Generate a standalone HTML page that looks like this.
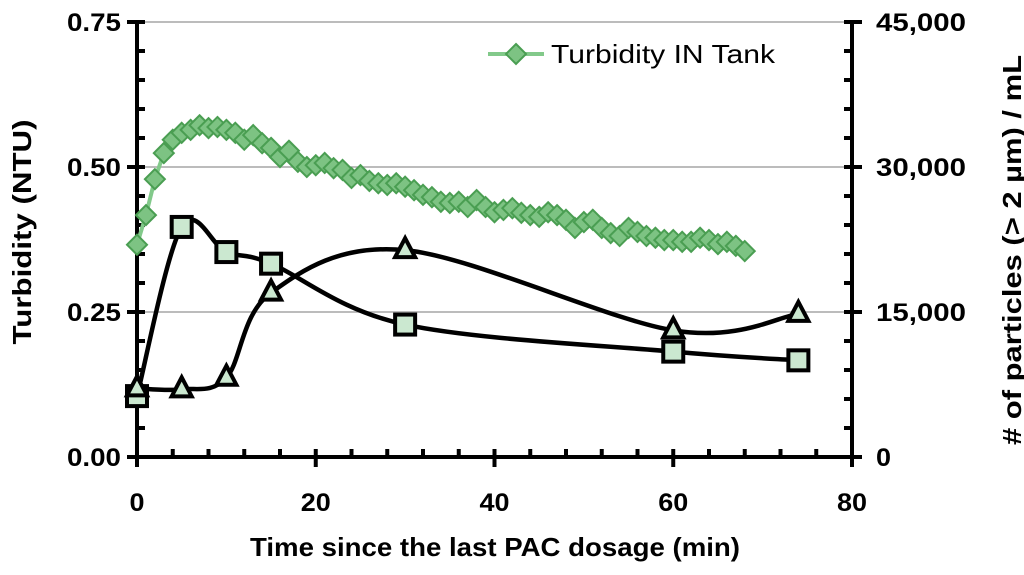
<!DOCTYPE html>
<html><head><meta charset="utf-8"><style>
body{margin:0;background:#fff;width:1024px;height:570px;overflow:hidden}
svg{font-family:"Liberation Sans",sans-serif;font-weight:bold}
</style></head><body>
<svg id="c" width="1024" height="570"></svg>
<script>
const turbTimes=[];for(let i=0;i<=68;i++)turbTimes.push(i);
const turbidity=[0.366,0.417,0.479,0.524,0.547,0.559,0.564,0.572,0.567,0.569,0.564,0.559,0.547,0.555,0.541,0.533,0.517,0.528,0.509,0.5,0.503,0.507,0.498,0.495,0.481,0.486,0.476,0.472,0.469,0.472,0.466,0.46,0.452,0.448,0.44,0.438,0.44,0.431,0.443,0.431,0.422,0.426,0.429,0.421,0.417,0.414,0.422,0.417,0.409,0.395,0.405,0.409,0.395,0.386,0.381,0.395,0.388,0.381,0.378,0.374,0.374,0.371,0.371,0.378,0.374,0.367,0.371,0.364,0.355];
const sampleTimes=[0,5,10,15,30,60,74];
const squareSeries=[6300,23800,21200,20000,13700,10900,10000];
const triangleSeries=[7100,7000,8200,17000,21400,13100,14800];
const xTicks=[0,20,40,60,80];
const yLeftTicks=["0.00","0.25","0.50","0.75"];
const yRightTicks=["0","15,000","30,000","45,000"];

const NS="http://www.w3.org/2000/svg";const svg=document.getElementById('c');
const X0=137,X1=852,Y0=457,Y1=22;
const xs=v=>X0+(v/80)*(X1-X0);
const yl=v=>Y0-(v/0.75)*(Y0-Y1);
const yr=v=>Y0-(v/45000)*(Y0-Y1);
function el(t,a,p){const e=document.createElementNS(NS,t);for(const k in a)e.setAttribute(k,a[k]);(p||svg).appendChild(e);return e;}
for(let i=1;i<=3;i++){const g=el('line',{x1:X0,x2:X1,y1:yl(i*0.25),y2:yl(i*0.25),stroke:'#a6a6a6','stroke-width':1.5});

}
const ax=el('g',{stroke:'#000','stroke-width':4});


el('line',{x1:X0,x2:X0,y1:Y1-2,y2:Y0+2},ax);
el('line',{x1:X1,x2:X1,y1:Y1-2,y2:Y0+2},ax);
el('line',{x1:X0-2,x2:X1+2,y1:Y0,y2:Y0},ax);
for(let v=0;v<=0.751;v+=0.05){const y=yl(v);const maj=Math.abs(v/0.25-Math.round(v/0.25))<1e-6;
el('line',{x1:maj?X0-10:X0,x2:X0+8,y1:y,y2:y},ax);
el('line',{x1:X1-8,x2:maj?X1+10:X1,y1:y,y2:y},ax);}
for(let v=0;v<=80;v+=4){const x=xs(v);const maj=v%20===0;el('line',{x1:x,x2:x,y1:Y0-8,y2:maj?Y0+10:Y0},ax);}
const cw=15; // approx per-char width of reference tick font
xTicks.forEach(v=>{const s=String(v);const t=el('text',{x:xs(v),y:Y0+54,'text-anchor':'middle','font-size':25,textLength:s.length*cw,lengthAdjust:'spacingAndGlyphs'});t.textContent=s;

});
yLeftTicks.forEach((s,i)=>{const t=el('text',{x:X0-16,y:yl(i*0.25)+9,'text-anchor':'end','font-size':25,textLength:s.length*cw-6,lengthAdjust:'spacingAndGlyphs'});t.textContent=s;

});
yRightTicks.forEach((s,i)=>{const t=el('text',{x:X1+24,y:yr(i*15000)+9,'text-anchor':'start','font-size':25,textLength:s.length*cw,lengthAdjust:'spacingAndGlyphs'});t.textContent=s;

});
let t=el('text',{x:495,y:556,'text-anchor':'middle','font-size':26,textLength:490,lengthAdjust:'spacingAndGlyphs'});t.textContent='Time since the last PAC dosage (min)';


t=el('text',{x:0,y:0,'text-anchor':'middle','font-size':26,textLength:225,lengthAdjust:'spacingAndGlyphs',transform:'translate(31,232) rotate(-90)'});t.textContent='Turbidity (NTU)';


t=el('text',{x:0,y:0,'text-anchor':'middle','font-size':26,textLength:390,lengthAdjust:'spacingAndGlyphs',transform:'translate(1021,250) rotate(-90)'});t.textContent='# of particles (> 2 µm) / mL';


function smooth(pts){let d='M'+pts[0][0]+','+pts[0][1];for(let i=0;i<pts.length-1;i++){const p0=pts[i-1]||pts[i],p1=pts[i],p2=pts[i+1],p3=pts[i+2]||p2;
const c1=[p1[0]+(p2[0]-p0[0])/6,p1[1]+(p2[1]-p0[1])/6],c2=[p2[0]-(p3[0]-p1[0])/6,p2[1]-(p3[1]-p1[1])/6];
d+=' C'+c1+' '+c2+' '+p2;}return d;}
const tp=turbTimes.map((x,i)=>[xs(x),yl(turbidity[i])]);
let ln=el('polyline',{points:tp.map(p=>p.join(',')).join(' '),fill:'none',stroke:'#82c98a','stroke-width':4});


function diamond(x,y,p){const s=10;return el('polygon',{points:`${x},${y-s} ${x+s},${y} ${x},${y+s} ${x-s},${y}`,fill:'#7dc383',stroke:'#4a9e52','stroke-width':2},p);}
tp.forEach(p=>{const d=diamond(p[0],p[1]);

});
const trp=sampleTimes.map((x,i)=>[xs(x),yr(triangleSeries[i])]);
ln=el('path',{d:smooth(trp),fill:'none',stroke:'#000','stroke-width':4.5});


const sqp=sampleTimes.map((x,i)=>[xs(x),yr(squareSeries[i])]);
ln=el('path',{d:smooth(sqp),fill:'none',stroke:'#000','stroke-width':4.5});


sqp.forEach(p=>{const r=el('rect',{x:p[0]-10,y:p[1]-10,width:20,height:20,fill:'#cbe8d0',stroke:'#000','stroke-width':4});

});
trp.forEach(p=>{const r=el('polygon',{points:`${p[0]},${p[1]-12} ${p[0]+10},${p[1]+7} ${p[0]-10},${p[1]+7}`,fill:'#cbe8d0',stroke:'#000','stroke-width':4,'stroke-linejoin':'miter'});

});
const lg=el('g',{});


el('line',{x1:488,x2:544,y1:54,y2:54,stroke:'#82c98a','stroke-width':4},lg);
diamond(516,54,lg);
t=el('text',{x:551,y:63,'font-size':26,'font-weight':'normal',textLength:224,lengthAdjust:'spacingAndGlyphs'},lg);t.textContent='Turbidity IN Tank';
</script>
</body></html>
